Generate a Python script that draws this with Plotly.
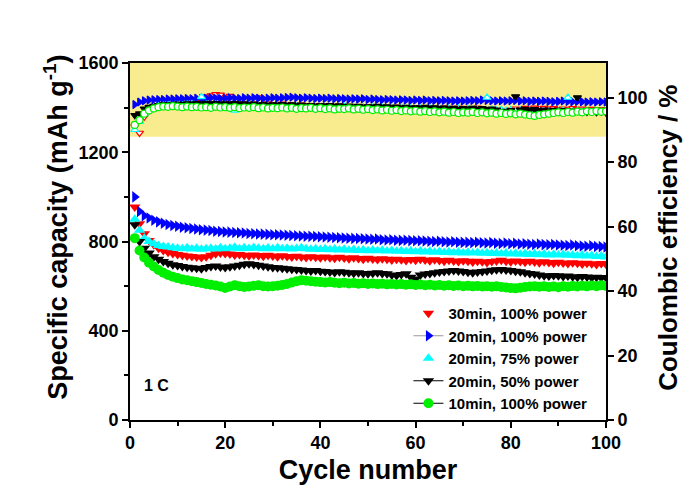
import plotly.graph_objects as go

cycles = list(range(1, 101))

cap_30min_100 = [955, 880, 835, 805, 785, 770, 760, 752, 746, 742,
                 738, 735, 733, 730, 728, 732, 738, 745, 748, 746,
                 744, 740, 742, 738, 736, 740, 737, 734, 738, 735,
                 732, 736, 733, 730, 734, 731, 728, 732, 729, 727,
                 730, 727, 725, 729, 726, 723, 727, 724, 721, 725,
                 722, 719, 723, 720, 717, 721, 718, 715, 719, 716,
                 720, 717, 714, 718, 715, 712, 716, 713, 710, 714,
                 711, 708, 712, 709, 706, 710, 713, 716, 712, 709,
                 713, 710, 707, 711, 708, 705, 709, 706, 703, 707,
                 704, 701, 705, 702, 699, 703, 700, 697, 701, 698]
cap_20min_100 = [1000, 935, 915, 905, 895, 888, 882, 876, 872, 868,
                 864, 862, 858, 856, 853, 851, 849, 846, 845, 843,
                 842, 840, 839, 838, 836, 835, 834, 833, 832, 830,
                 830, 829, 828, 827, 826, 825, 824, 823, 822, 821,
                 820, 819, 818, 817, 816, 815, 814, 813, 812, 811,
                 810, 811, 808, 807, 808, 806, 805, 806, 804, 803,
                 803, 802, 801, 800, 801, 799, 798, 799, 797, 796,
                 796, 795, 797, 794, 793, 795, 792, 791, 793, 790,
                 792, 789, 790, 788, 787, 789, 786, 785, 787, 784,
                 783, 782, 784, 781, 780, 779, 781, 778, 777, 775]
cap_20min_75 = [900, 850, 815, 800, 790, 782, 778, 775, 772, 770,
                768, 772, 766, 770, 765, 768, 770, 766, 772, 768,
                770, 774, 768, 772, 769, 773, 770, 767, 771, 768,
                772, 768, 770, 766, 769, 772, 767, 765, 768, 764,
                767, 763, 766, 762, 765, 761, 764, 760, 763, 759,
                762, 758, 761, 757, 760, 756, 759, 755, 758, 754,
                757, 753, 756, 752, 755, 751, 754, 750, 753, 749,
                752, 748, 751, 747, 750, 746, 749, 745, 748, 744,
                747, 743, 746, 742, 745, 741, 744, 740, 743, 739,
                742, 738, 740, 736, 739, 735, 737, 733, 735, 731]
cap_20min_50 = [875, 800, 770, 748, 732, 720, 710, 702, 696, 692,
                688, 685, 682, 680, 678, 683, 688, 690, 686, 684,
                687, 690, 694, 698, 700, 697, 694, 690, 687, 684,
                682, 680, 678, 676, 674, 672, 670, 668, 670, 667,
                665, 663, 661, 664, 662, 660, 658, 660, 657, 655,
                658, 660, 657, 655, 650, 648, 652, 655, 640, 632,
                650, 654, 657, 660, 663, 666, 668, 670, 668, 665,
                662, 660, 663, 665, 668, 671, 673, 675, 672, 670,
                667, 664, 660, 657, 654, 650, 647, 645, 648, 646,
                643, 645, 642, 640, 643, 641, 638, 640, 637, 639]
cap_10min_100 = [815, 760, 728, 705, 688, 672, 660, 650, 642, 636,
                 630, 626, 622, 618, 614, 610, 606, 603, 598, 592,
                 598, 604, 600, 596, 598, 602, 604, 600, 598, 600,
                 602, 605, 610, 616, 622, 626, 624, 622, 620, 618,
                 616, 618, 615, 613, 615, 612, 614, 611, 613, 610,
                 612, 609, 611, 608, 610, 607, 609, 606, 608, 605,
                 607, 604, 606, 603, 605, 602, 604, 601, 603, 600,
                 602, 599, 601, 598, 600, 597, 599, 596, 594, 592,
                 590, 593, 596, 598, 600, 597, 599, 596, 598, 595,
                 600, 597, 601, 598, 602, 599, 603, 600, 604, 601]

ce_30min_100 = [91.0, 89.0, 94.0, 96.0, 97.0, 97.4, 97.6, 97.5, 97.8, 97.6,
                97.7, 97.9, 97.6, 98.0, 98.5, 100.2, 100.6, 101.0, 100.8, 99.5,
                100.4, 98.2, 97.9, 98.1, 97.8, 98.0, 100.0, 97.9, 98.1, 97.7,
                97.9, 98.0, 97.6, 97.8, 97.5, 97.7, 97.4, 97.6, 97.3, 97.5,
                97.2, 97.4, 96.9, 97.3, 97.0, 97.2, 96.8, 97.1, 96.7, 97.0,
                96.8, 97.1, 96.6, 96.9, 96.7, 97.0, 96.5, 96.8, 96.6, 96.9,
                96.7, 96.9, 96.5, 96.8, 96.6, 96.9, 96.7, 96.4, 96.8, 96.5,
                96.7, 96.4, 96.8, 96.2, 95.8, 96.0, 95.5, 95.7, 95.4, 96.2,
                96.5, 96.3, 96.7, 96.4, 96.8, 96.5, 96.7, 96.4, 96.6, 96.3,
                96.5, 96.2, 96.6, 96.3, 96.5, 96.2, 96.4, 96.1, 96.3, 96.0]
ce_20min_100 = [97.8, 98.6, 99.0, 99.2, 99.3, 99.4, 99.4, 99.5, 99.5, 99.6,
                99.6, 99.7, 99.6, 99.8, 99.7, 99.8, 99.9, 99.8, 99.7, 99.8,
                99.9, 99.8, 99.7, 99.9, 99.8, 99.9, 99.8, 99.7, 99.8, 99.9,
                99.8, 99.9, 100.0, 100.1, 99.9, 99.8, 99.9, 99.8, 99.7, 99.8,
                99.7, 99.8, 99.6, 99.7, 99.6, 99.5, 99.6, 99.5, 99.6, 99.4,
                99.5, 99.4, 99.3, 99.4, 99.3, 99.2, 99.3, 99.2, 99.1, 99.2,
                99.1, 99.2, 99.0, 99.1, 99.0, 99.1, 99.0, 98.9, 99.0, 98.9,
                99.0, 99.1, 99.0, 99.2, 99.1, 99.0, 98.9, 99.0, 98.9, 99.0,
                99.1, 98.9, 99.0, 98.8, 98.9, 98.8, 98.9, 98.8, 98.7, 98.8,
                98.9, 98.8, 98.7, 98.8, 98.7, 98.6, 98.7, 98.6, 98.7, 98.6]
ce_20min_75 = [90.0, 92.5, 95.0, 96.3, 97.0, 97.3, 97.5, 97.6, 97.4, 97.7,
               97.5, 97.8, 98.0, 97.6, 100.2, 97.9, 97.5, 97.8, 97.4, 97.7,
               96.5, 96.0, 96.8, 97.2, 97.5, 97.0, 97.3, 96.9, 97.2, 97.0,
               97.4, 97.1, 97.3, 96.9, 97.2, 97.0, 96.7, 97.1, 96.8, 97.0,
               96.8, 97.1, 96.6, 96.9, 97.2, 96.7, 97.0, 96.5, 96.9, 96.6,
               96.9, 96.6, 96.8, 96.5, 96.7, 96.4, 96.8, 96.5, 96.7, 96.4,
               96.6, 96.3, 96.7, 96.4, 96.6, 96.3, 96.5, 96.2, 96.6, 96.3,
               96.5, 96.2, 96.4, 96.1, 100.0, 96.3, 96.0, 96.2, 95.9, 96.1,
               95.8, 96.0, 95.7, 95.9, 95.6, 95.8, 95.5, 95.7, 95.4, 95.6,
               95.9, 100.0, 95.6, 95.8, 95.5, 95.7, 95.4, 95.6, 95.3, 95.5]
ce_20min_50 = [94.5, 95.0, 96.5, 97.0, 97.3, 97.6, 97.8, 97.7, 97.9, 98.0,
               97.9, 98.1, 98.0, 98.2, 98.0, 98.3, 98.1, 98.2, 98.0, 98.1,
               98.0, 98.2, 97.9, 98.1, 97.8, 98.0, 97.7, 97.9, 97.6, 97.8,
               97.7, 97.9, 97.6, 97.8, 97.5, 97.7, 97.4, 97.6, 97.3, 97.5,
               97.4, 97.6, 97.3, 97.5, 97.2, 97.4, 97.1, 97.3, 97.0, 97.2,
               97.1, 97.3, 97.0, 97.2, 96.9, 97.1, 96.8, 97.0, 96.7, 96.9,
               96.8, 97.0, 96.7, 96.9, 96.6, 96.8, 96.5, 96.7, 96.4, 96.6,
               96.5, 96.7, 96.4, 96.6, 96.3, 96.5, 96.2, 95.8, 95.6, 96.0,
               100.3, 96.2, 96.4, 96.1, 96.3, 96.0, 96.2, 95.9, 96.1, 95.8,
               96.0, 95.7, 95.9, 100.0, 95.8, 95.5, 95.7, 95.4, 95.6, 95.3]
ce_10min_100 = [91.5, 93.0, 95.0, 96.0, 96.6, 97.0, 97.2, 97.1, 97.3, 97.2,
                97.0, 97.2, 97.0, 97.1, 96.9, 97.0, 96.8, 97.1, 96.9, 97.0,
                96.8, 97.0, 96.7, 96.9, 96.8, 97.0, 96.7, 96.9, 96.6, 96.8,
                96.7, 96.9, 96.6, 96.8, 96.5, 96.7, 96.6, 96.8, 96.5, 96.7,
                96.4, 96.6, 96.3, 96.5, 96.4, 96.6, 96.3, 96.5, 96.2, 96.4,
                96.1, 96.3, 96.0, 96.2, 95.9, 96.1, 95.8, 96.0, 95.7, 95.9,
                95.6, 95.8, 95.5, 95.7, 95.4, 95.6, 95.3, 95.5, 95.2, 95.4,
                95.3, 95.5, 95.2, 95.4, 95.1, 95.3, 95.0, 95.2, 94.9, 95.1,
                94.8, 95.0, 94.7, 94.5, 94.3, 94.6, 94.8, 95.0, 95.2, 95.4,
                95.2, 95.5, 95.3, 95.6, 95.4, 95.7, 95.5, 95.8, 95.6, 95.7]

labels = ["30min, 100% power", "20min, 100% power", "20min, 75% power",
          "20min, 50% power", "10min, 100% power"]
colors = ["#FF0000", "#0000FF", "#00FFFF", "#000000", "#00EE00"]
symbols = ["triangle-down", "triangle-right", "triangle-up", "triangle-down", "circle"]
legend_lines = [None, "#999999", None, "#000000", "#000000"]
caps = [cap_30min_100, cap_20min_100, cap_20min_75, cap_20min_50, cap_10min_100]
ces = [ce_30min_100, ce_20min_100, ce_20min_75, ce_20min_50, ce_10min_100]
ce_filled = [False, True, False, True, False]

FONT = "Arial, 'Liberation Sans', sans-serif"

fig = go.Figure()

# Coulombic efficiency (right axis)
for lab, col, sym, ce, filled in zip(labels, colors, symbols, ces, ce_filled):
    fig.add_trace(go.Scatter(
        x=cycles, y=ce, mode="markers", yaxis="y2", showlegend=False,
        marker=dict(symbol=sym, size=7, color=col if filled else "white",
                    line=dict(color=col, width=1.2))))

# Specific capacity (left axis)
for lab, col, sym, cap in zip(labels, colors, symbols, caps):
    fig.add_trace(go.Scatter(
        x=cycles, y=cap, mode="markers", showlegend=False,
        marker=dict(symbol=sym, size=10, color=col, line=dict(width=0))))

# legend entries
for i, (lab, col, sym, ll) in enumerate(zip(labels, colors, symbols, legend_lines)):
    fig.add_trace(go.Scatter(
        x=[None], y=[None], name=lab, mode="lines+markers" if ll else "markers",
        legendgroup=f"g{i}",
        line=dict(color=ll or col, width=1.2),
        marker=dict(symbol=sym, size=10, color=col, line=dict(width=0))))

fig.add_shape(type="rect", xref="paper", yref="y2", x0=0, x1=1, y0=87.8, y1=110.7,
              fillcolor="#F9EC8E", line=dict(width=0), layer="below")

fig.add_annotation(text="<b>1 C</b>", xref="paper", yref="paper", x=0.025, y=0.098,
                   xanchor="left", yanchor="middle", showarrow=False,
                   font=dict(family=FONT, size=16, color="black"))

# y-axis titles
fig.add_annotation(text="<b>Specific capacity (mAh g<sup>-1</sup>)</b>",
                   xref="paper", yref="paper", x=-0.1555, y=0.541, textangle=-90,
                   xanchor="center", yanchor="middle", showarrow=False,
                   font=dict(family=FONT, size=27, color="black"))
fig.add_annotation(text="<b>Coulombic efficiency / %</b>",
                   xref="paper", yref="paper", x=1.13, y=0.51, textangle=-90,
                   xanchor="center", yanchor="middle", showarrow=False,
                   font=dict(family=FONT, size=26, color="black"))

axis_common = dict(showline=True, linecolor="black", linewidth=1.6, ticks="outside",
                   tickcolor="black", tickwidth=1.5, ticklen=6, showgrid=False,
                   zeroline=False, tickfont=dict(family=FONT, size=18, color="black",
                                                 weight="bold"))

fig.update_layout(
    width=683, height=487,
    margin=dict(l=122, r=85, t=55, b=75),
    paper_bgcolor="white", plot_bgcolor="white",
    font=dict(family=FONT, color="black"),
    xaxis=dict(range=[0, 100], tickvals=[0, 20, 40, 60, 80, 100], mirror=True,
               minor=dict(tickvals=[10, 30, 50, 70, 90], ticks="outside", ticklen=4,
                          tickcolor="black", tickwidth=1.5),
               title=dict(text="<b>Cycle number</b>", standoff=8,
                          font=dict(family=FONT, size=27, color="black")),
               **axis_common),
    yaxis=dict(range=[0, 1600], tickvals=[0, 400, 800, 1200, 1600],
               minor=dict(tickvals=[200, 600, 1000, 1400], ticks="outside", ticklen=4,
                          tickcolor="black", tickwidth=1.5),
               **axis_common),
    yaxis2=dict(range=[0, 110.7], tickvals=[0, 20, 40, 60, 80, 100], overlaying="y",
                side="right", anchor="x",
                **axis_common),
    legend=dict(x=0.585, y=0.0, xanchor="left", yanchor="bottom",
                bgcolor="rgba(0,0,0,0)", traceorder="grouped", tracegroupgap=0,
                font=dict(family=FONT, size=15, color="black", weight="bold"),
                itemwidth=30),
)

fig.write_html("out.html")
